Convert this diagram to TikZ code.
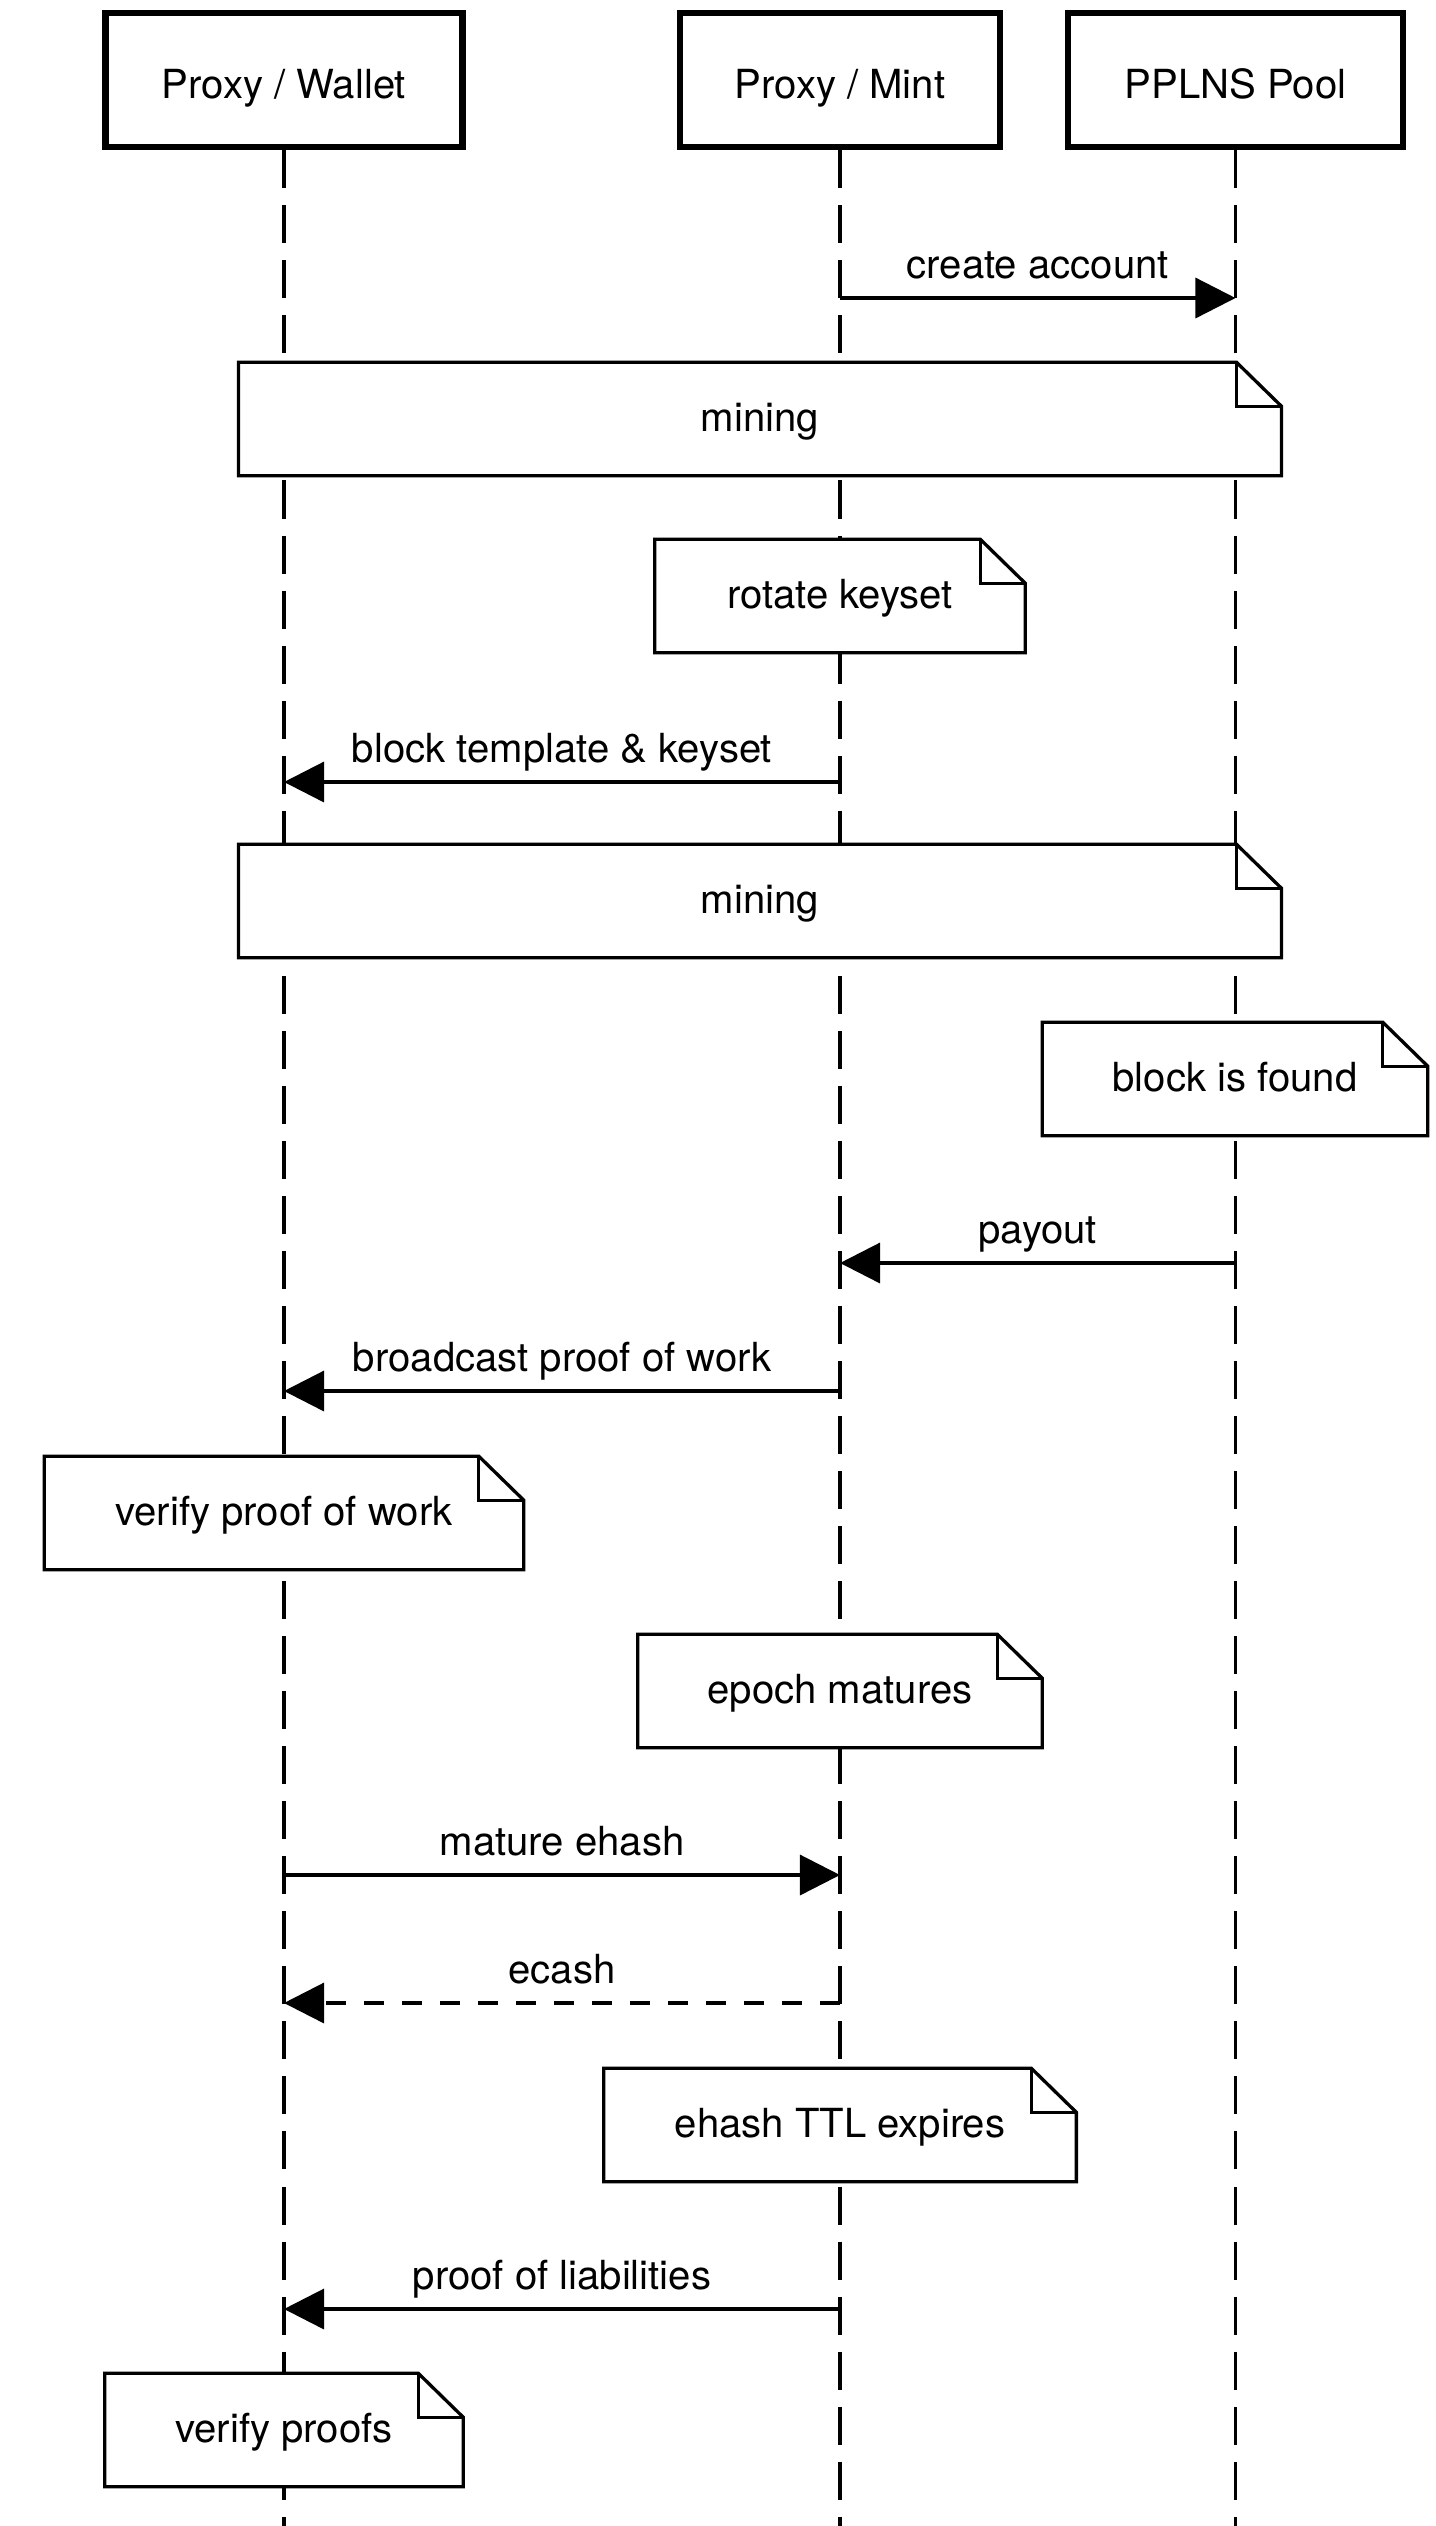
\documentclass[tikz,border=0pt]{standalone}
\usepackage{fontspec}
\setmainfont{TeX Gyre Heros}
\usetikzlibrary{arrows.meta}

\tikzset{
  actor/.style={draw, line width=0.065cm, minimum height=1.34cm, inner sep=0pt,
    text height=0.44cm, text depth=0.08cm},
  lifeline/.style={line width=0.033cm, dash pattern=on 0.38cm off 0.17cm},
  msg/.style={line width=0.033cm, -{Triangle[length=0.4cm, width=0.4cm]}},
  reply/.style={msg, dash pattern=on 0.2cm off 0.18cm},
  msglabel/.style={midway, anchor=base, yshift=0.2cm},
  % note box with a folded corner, drawn round the node
  note/.style={inner sep=0pt, minimum height=1.12cm, text height=0.29cm, text depth=0.04cm,
    append after command={\pgfextra{\let\thisnote\tikzlastnode
      \draw[line width=0.033cm, fill=white]
        (\thisnote.south west) -- (\thisnote.north west)
        -- ([xshift=-0.45cm]\thisnote.north east)
        -- ([yshift=-0.44cm]\thisnote.north east)
        -- (\thisnote.south east) -- cycle;
      \draw[line width=0.033cm]
        ([xshift=-0.45cm]\thisnote.north east) |- ([yshift=-0.44cm]\thisnote.north east);
    }}},
}

\begin{document}
\begin{tikzpicture}[x=0.01cm, y=-0.01cm, font=\fontsize{11.4pt}{13.7pt}\selectfont]
  \useasboundingbox (0,0) rectangle (1435,2526);
  \coordinate (bottom) at (0,2526);

  % participants
  \node[actor, minimum width=3.57cm] (wallet) at (284,80) {Proxy / Wallet};
  \node[actor, minimum width=3.20cm] (mint) at (840,80) {Proxy / Mint};
  \node[actor, minimum width=3.35cm] (pool) at (1235.5,80) {PPLNS Pool};
  \foreach \p in {wallet,mint,pool}
    \draw[lifeline] (\p.south) -- (\p |- bottom);

  % notes
  \node[note, minimum width=10.41cm] (mining1) at (760,419) {mining};
  \node[note, minimum width=3.69cm] (rotate) at (840,596) {rotate keyset};
  \node[note, minimum width=10.41cm] (mining2) at (760,901) {mining};
  \node[note, minimum width=3.84cm] (found) at (1235,1079) {block is found};
  \node[note, minimum width=4.78cm] (verifypow) at (284,1513) {verify proof of work};
  \node[note, minimum width=4.03cm] (epoch) at (840,1691) {epoch matures};
  \node[note, minimum width=4.71cm] (ttl) at (840,2125) {ehash TTL expires};
  \node[note, minimum width=3.57cm] (verifyproofs) at (284,2430) {verify proofs};

  % messages
  \draw[msg] (mint |- 0,298) -- (pool |- 0,298) node[msglabel] {create account};
  \draw[msg] (mint |- 0,782) -- (wallet |- 0,782) node[msglabel] {block template \& keyset};
  \draw[msg] (pool |- 0,1263) -- (mint |- 0,1263) node[msglabel] {payout};
  \draw[msg] (mint |- 0,1391) -- (wallet |- 0,1391) node[msglabel] {broadcast proof of work};
  \draw[msg] (wallet |- 0,1875) -- (mint |- 0,1875) node[msglabel] {mature ehash};
  \draw[reply] (mint |- 0,2003) -- (wallet |- 0,2003) node[msglabel] {ecash};
  \draw[msg] (mint |- 0,2309) -- (wallet |- 0,2309) node[msglabel] {proof of liabilities};
\end{tikzpicture}
\end{document}
